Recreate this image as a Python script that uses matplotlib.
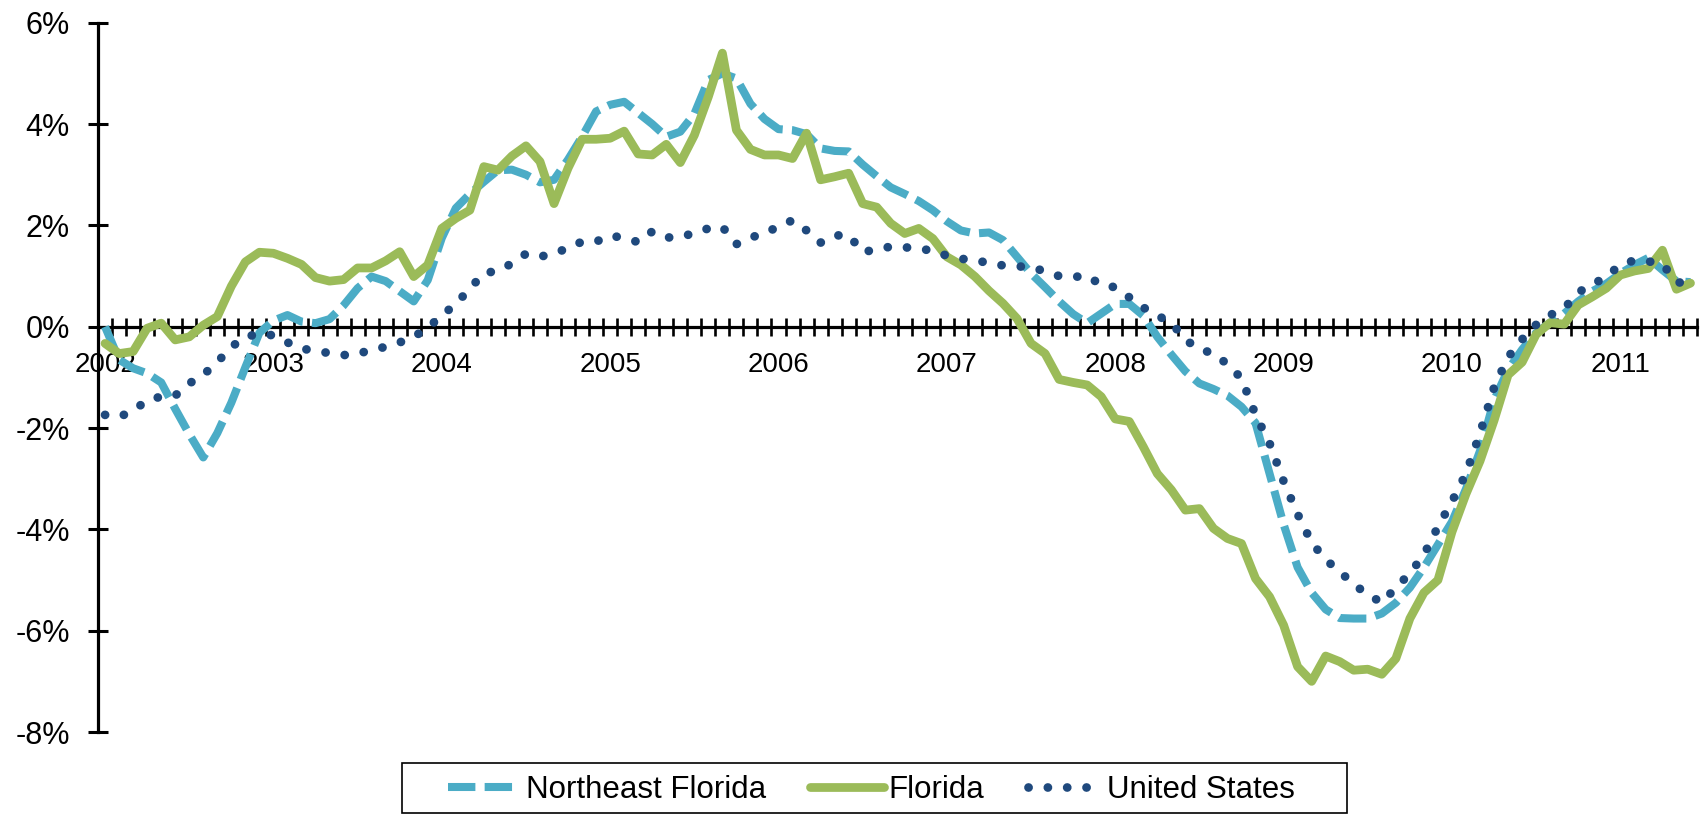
import numpy as np
import matplotlib.pyplot as plt
from matplotlib.patches import Rectangle
from matplotlib.ticker import FuncFormatter

plt.rcParams['font.family'] = ['Liberation Sans', 'DejaVu Sans']

# year labels, one per January
years = ['2002', '2003', '2004', '2005', '2006', '2007', '2008', '2009', '2010', '2011']

# monthly values in %, Jan 2002 - Jun 2011
northeast_florida = [
    0.00, -0.65, -0.82, -0.92, -1.10, -1.62, -2.12, -2.58, -2.10, -1.50, -0.80, -0.12,
    0.12, 0.23, 0.10, 0.07, 0.15, 0.42, 0.76, 0.99, 0.90, 0.70, 0.50, 0.92,
    1.75, 2.34, 2.62, 2.86, 3.09, 3.10, 3.00, 2.85, 2.90, 3.30, 3.75, 4.25,
    4.38, 4.44, 4.22, 4.00, 3.75, 3.85, 4.20, 4.87, 5.00, 4.90, 4.40, 4.10,
    3.90, 3.88, 3.80, 3.52, 3.47, 3.46, 3.20, 2.97, 2.75, 2.62, 2.48, 2.30,
    2.08, 1.90, 1.84, 1.86, 1.71, 1.38, 1.05, 0.78, 0.50, 0.25, 0.07, 0.26,
    0.45, 0.45, 0.22, -0.20, -0.55, -0.88, -1.12, -1.23, -1.36, -1.58, -1.90, -2.90,
    -3.90, -4.75, -5.25, -5.58, -5.75, -5.76, -5.76, -5.66, -5.45, -5.15, -4.75, -4.30,
    -3.85, -3.20, -2.45, -1.45, -0.85, -0.45, -0.12, 0.08, 0.26, 0.50, 0.70, 0.85,
    1.05, 1.22, 1.36, 1.12, 0.90, 0.88,
]
florida = [
    -0.33, -0.53, -0.49, -0.03, 0.07, -0.26, -0.20, 0.03, 0.20, 0.80, 1.28, 1.47,
    1.45, 1.35, 1.23, 0.97, 0.90, 0.93, 1.16, 1.16, 1.30, 1.48, 0.99, 1.22,
    1.94, 2.14, 2.30, 3.16, 3.09, 3.37, 3.57, 3.26, 2.43, 3.13, 3.70, 3.70,
    3.72, 3.86, 3.41, 3.39, 3.60, 3.24, 3.78, 4.54, 5.40, 3.88, 3.50, 3.39,
    3.39, 3.32, 3.82, 2.90, 2.96, 3.03, 2.43, 2.36, 2.04, 1.84, 1.94, 1.74,
    1.38, 1.22, 0.99, 0.71, 0.46, 0.16, -0.33, -0.53, -1.04, -1.10, -1.15, -1.38,
    -1.82, -1.87, -2.37, -2.90, -3.22, -3.62, -3.59, -3.98, -4.18, -4.28, -4.97, -5.33,
    -5.89, -6.71, -7.00, -6.50, -6.61, -6.78, -6.76, -6.86, -6.55, -5.76, -5.25, -5.00,
    -4.05, -3.30, -2.65, -1.85, -0.95, -0.70, -0.15, 0.08, 0.05, 0.43, 0.59, 0.76,
    1.02, 1.10, 1.15, 1.51, 0.74, 0.86,
]
united_states = [
    -1.74, -1.78, -1.66, -1.45, -1.38, -1.36, -1.12, -0.95, -0.70, -0.40, -0.20, -0.14,
    -0.17, -0.31, -0.43, -0.48, -0.52, -0.56, -0.54, -0.45, -0.40, -0.31, -0.20, -0.02,
    0.22, 0.45, 0.75, 1.06, 1.10, 1.25, 1.44, 1.38, 1.45, 1.55, 1.68, 1.68,
    1.80, 1.75, 1.67, 1.88, 1.76, 1.77, 1.85, 1.94, 1.97, 1.63, 1.76, 1.84,
    1.98, 2.10, 1.90, 1.66, 1.80, 1.81, 1.47, 1.53, 1.58, 1.57, 1.53, 1.51,
    1.40, 1.34, 1.32, 1.25, 1.21, 1.19, 1.18, 1.09, 1.00, 0.98, 1.01, 0.82,
    0.78, 0.58, 0.38, 0.22, 0.08, -0.26, -0.44, -0.53, -0.74, -1.02, -1.74, -2.30,
    -3.05, -3.70, -4.26, -4.60, -4.83, -5.09, -5.28, -5.45, -5.15, -4.87, -4.50, -3.95,
    -3.45, -2.90, -2.10, -1.20, -0.60, -0.25, 0.04, 0.23, 0.36, 0.68, 0.83, 0.99,
    1.22, 1.31, 1.29, 1.24, 0.88, 0.85,
]

months = np.arange(len(florida))

fig = plt.figure(figsize=(17.05, 8.15), dpi=100)
ax = fig.add_axes([0.0575, 0.1018, 0.9381, 0.8703])

ax.plot(months, northeast_florida, color='#4BACC6', lw=5.8, linestyle=(0, (3.4, 1.15)),
        dash_capstyle='butt', zorder=3, label='Northeast Florida')
ax.plot(months, florida, color='#9BBB59', lw=6.3, solid_capstyle='round',
        solid_joinstyle='round', zorder=3, label='Florida')
ax.plot(months, united_states, color='#1F497D', lw=6.3, linestyle=(0, (0.01, 2.2)),
        dash_capstyle='round', zorder=3, label='United States')

ax.set_xlim(-0.5, len(florida) - 0.5)
ax.set_ylim(-8, 6)
ax.set_yticks(range(-8, 7, 2))
ax.yaxis.set_major_formatter(FuncFormatter(lambda v, p: f'{int(v)}%'))
ax.set_xticks(np.arange(0, len(florida), 12))
ax.set_xticklabels(years)
ax.set_xticks(np.arange(-0.5, len(florida), 1), minor=True)

# axes: only the left line and a zero line with month ticks
ax.spines['top'].set_visible(False)
ax.spines['right'].set_visible(False)
ax.spines['bottom'].set_position(('data', 0))
ax.spines['bottom'].set_linewidth(2.3)
ax.spines['left'].set_linewidth(2.3)
ax.tick_params(axis='x', which='major', length=0, pad=18.5, labelsize=20)
ax.tick_params(axis='x', which='minor', direction='inout', length=12.5, width=1.9)
ax.tick_params(axis='y', direction='inout', length=14.4, width=2.2, pad=13, labelsize=22)

leg = ax.legend(loc='center left', bbox_to_anchor=(448 / 1705, 1 - 790 / 815),
                bbox_transform=fig.transFigure, ncol=3, frameon=False, fontsize=22.5,
                borderpad=0, borderaxespad=0, handlelength=2.35, handletextpad=0.16,
                columnspacing=1.4)
fig.patches.append(Rectangle((402 / 1705, 2 / 815), 945 / 1705, 50 / 815,
                             transform=fig.transFigure, fill=False,
                             edgecolor='black', lw=1.2))

fig.savefig('out.png', dpi=100)
